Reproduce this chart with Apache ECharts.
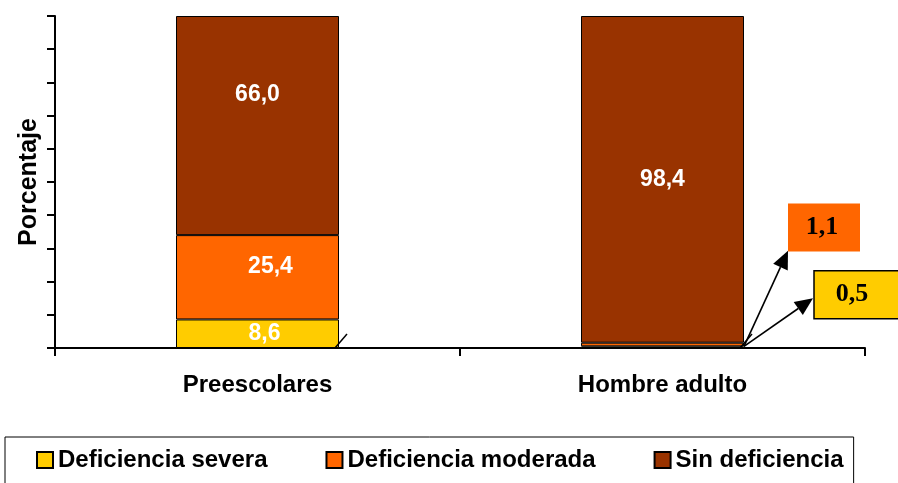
<!DOCTYPE html>
<html>
<head>
<meta charset="utf-8">
<script src="https://cdn.jsdelivr.net/npm/echarts@6/dist/echarts.min.js"></script>
<style>
html,body{margin:0;padding:0;background:#fff;}
#main{width:898px;height:483px;}
</style>
</head>
<body>
<div id="main"></div>
<script>
const categories = ['Preescolares', 'Hombre adulto'];
const seriesNames = ['Deficiencia severa', 'Deficiencia moderada', 'Sin deficiencia'];
const severa = [8.6, 0.5];
const moderada = [25.4, 1.1];
const sinDef = [66.0, 98.4];
const yTicks = [0, 10, 20, 30, 40, 50, 60, 70, 80, 90, 100];

const colors = ['#FFCC00', '#FF6600', '#993300'];
const fmt = v => v.toFixed(1).replace('.', ',');
const SANS = 'Liberation Sans, Arial, sans-serif';

const chart = echarts.init(document.getElementById('main'));

function labelFor(v, idx, offset) {
  return {
    value: v,
    label: {
      show: idx === 0 || v > 5,
      offset: offset || [0, 0]
    }
  };
}

const baseLabel = {
  show: true,
  position: 'inside',
  color: '#fff',
  fontFamily: SANS,
  fontWeight: 'bold',
  fontSize: 23,
  formatter: p => fmt(p.value)
};

const option = {
  animation: false,
  grid: { left: 55, right: 33, top: 16, bottom: 135 },
  xAxis: {
    type: 'category',
    data: categories,
    axisLine: { lineStyle: { color: '#000', width: 2 } },
    axisTick: { show: true, length: 8, lineStyle: { color: '#000', width: 2 } },
    axisLabel: {
      color: '#000', fontFamily: SANS,
      fontWeight: 'bold', fontSize: 24, margin: 25
    }
  },
  yAxis: {
    type: 'value',
    min: yTicks[0],
    max: yTicks[yTicks.length - 1],
    interval: 10,
    name: 'Porcentaje',
    nameLocation: 'middle',
    nameGap: 13,
    nameTextStyle: {
      color: '#000', fontFamily: SANS,
      fontWeight: 'bold', fontSize: 25
    },
    axisLine: { show: true, lineStyle: { color: '#000', width: 2 } },
    axisTick: { show: true, length: 8, lineStyle: { color: '#000', width: 2 } },
    axisLabel: { show: false },
    splitLine: { show: false }
  },
  legend: {
    left: 5,
    top: 437,
    orient: 'horizontal',
    icon: 'rect',
    itemWidth: 16,
    itemHeight: 16,
    itemGap: 58,
    padding: [10, 10, 12, 31],
    borderColor: '#000',
    borderWidth: 1,
    textStyle: {
      color: '#000', fontFamily: SANS,
      fontWeight: 'bold', fontSize: 24, lineHeight: 26
    },
    data: seriesNames
  },
  series: [
    {
      name: seriesNames[0], type: 'bar', stack: 's', barWidth: 163,
      itemStyle: { color: colors[0], borderColor: '#000', borderWidth: 1 },
      label: baseLabel,
      data: severa.map((v, i) => labelFor(v, i, [7, 0]))
    },
    {
      name: seriesNames[1], type: 'bar', stack: 's',
      itemStyle: { color: colors[1], borderColor: '#000', borderWidth: 1 },
      label: baseLabel,
      data: moderada.map((v, i) => labelFor(v, i, [13, -11]))
    },
    {
      name: seriesNames[2], type: 'bar', stack: 's',
      itemStyle: { color: colors[2], borderColor: '#000', borderWidth: 1 },
      label: baseLabel,
      data: sinDef.map((v, i) => labelFor(v, i, i === 0 ? [0, -31] : [0, 0]))
    }
  ]
};

chart.setOption(option);

(function addCallouts() {
  const half = 163 / 2;
  const py = v => chart.convertToPixel({ yAxisIndex: 0 }, v);
  const px = c => chart.convertToPixel({ xAxisIndex: 0 }, c);
  const y0 = py(0);
  const g = [];
  // small leader stubs at bar bottom-right
  categories.forEach(c => {
    const r = px(c) + half;
    g.push({ type: 'line', shape: { x1: r - 4, y1: y0, x2: r + 8, y2: y0 - 14 },
      style: { stroke: '#000', lineWidth: 1.5 }, z: 100 });
  });
  // callouts for Hombre adulto small values
  const r = px(categories[1]) + half;
  const oy = py(severa[1]);
  const callouts = [
    { val: moderada[1], color: colors[1], border: false,
      box: [r + 44, py(43.5), 72, 48], tip: [r + 44, py(29.3)] },
    { val: severa[1], color: colors[0], border: true,
      box: [r + 70, py(23.3), 90, 48], tip: [r + 69, py(15)] }
  ];
  callouts.forEach(c => {
    const [bx, by, bw, bh] = c.box;
    g.push({ type: 'rect', shape: { x: bx, y: by, width: bw, height: bh },
      style: { fill: c.color, stroke: c.border ? '#000' : null, lineWidth: c.border ? 1.5 : 0 }, z: 100 });
    g.push({ type: 'text', x: bx + (c.border ? 38 : bw / 2 - 2), y: by + bh / 2,
      style: { text: fmt(c.val), fill: '#000', font: 'bold 26px "Liberation Serif", "Times New Roman", serif',
        textAlign: 'center', textVerticalAlign: 'middle' }, z: 101 });
    const [tx, ty] = c.tip;
    const dx = tx - r, dy = ty - oy;
    const len = Math.sqrt(dx * dx + dy * dy);
    const ux = dx / len, uy = dy / len;
    const hl = 18, hw = 8;
    const bxp = tx - ux * hl, byp = ty - uy * hl;
    g.push({ type: 'line', shape: { x1: r, y1: oy, x2: bxp, y2: byp },
      style: { stroke: '#000', lineWidth: 1.6 }, z: 100 });
    g.push({ type: 'polygon', shape: { points: [[tx, ty], [bxp - uy * hw, byp + ux * hw], [bxp + uy * hw, byp - ux * hw]] },
      style: { fill: '#000' }, z: 100 });
  });
  chart.setOption({ graphic: g });
})();
</script>
</body>
</html>
